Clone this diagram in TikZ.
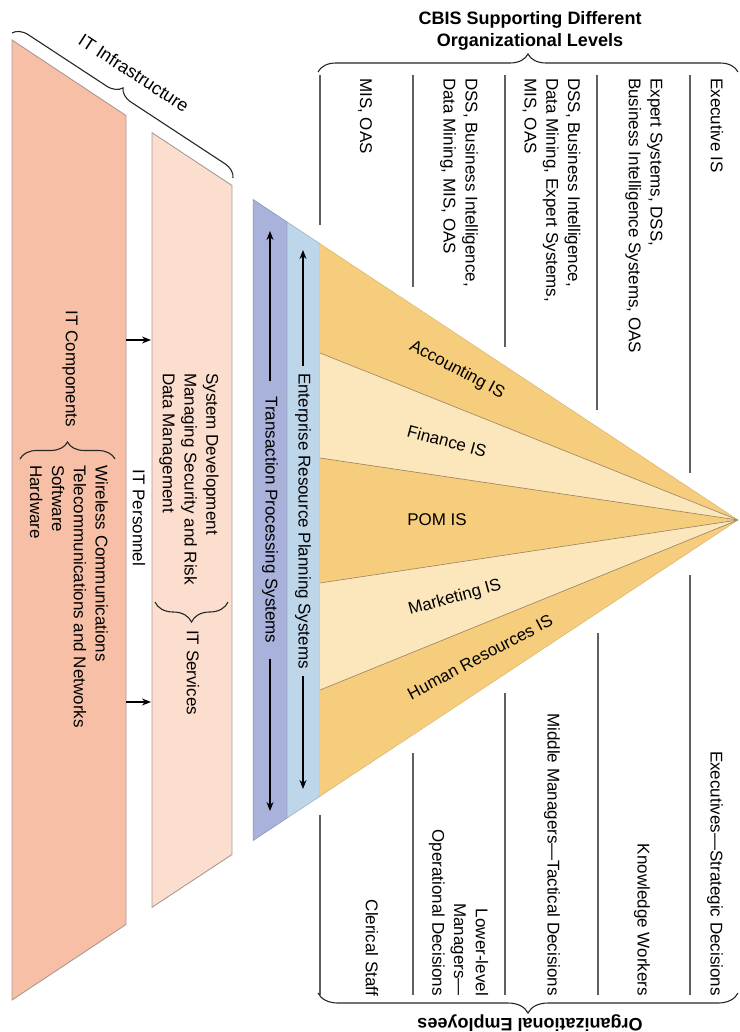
\documentclass[tikz,border=0pt]{standalone}
\usepackage{fontspec}
\setmainfont{Liberation Sans}
\usetikzlibrary{decorations.pathreplacing,arrows.meta}
\definecolor{compfill}{RGB}{247,192,166}
\definecolor{servfill}{RGB}{252,222,207}
\definecolor{boxedge}{RGB}{170,152,148}
\definecolor{tpsfill}{RGB}{168,178,218}
\definecolor{erpfill}{RGB}{190,214,234}
\definecolor{fandark}{RGB}{246,205,124}
\definecolor{fanlight}{RGB}{252,231,188}
\definecolor{fanedge}{RGB}{150,128,96}
\definecolor{rulegray}{RGB}{95,95,95}
\tikzset{
  txt/.style={font=\fontsize{17}{21.8}\selectfont, inner sep=0pt},
  colhead/.style={txt, rotate=-90, anchor=west, align=left},
  colfoot/.style={txt, rotate=-90, anchor=east, align=right},
  heading/.style={font=\fontsize{18}{22}\selectfont\bfseries, inner sep=0pt, align=center},
  seprule/.style={draw=rulegray, line width=1.1pt},
  bracepath/.style={draw=black!85, line width=1.1pt, decorate,
    decoration={brace, amplitude=#1}},
  bracemid/.style 2 args={draw=black!85, line width=1.1pt, decorate,
    decoration={brace, amplitude=#1, aspect=#2}},
  flow/.style={-{Stealth[length=9pt,width=7pt]}, line width=1.1pt},
  slice/.style={draw=fanedge, line width=0.6pt},
  panel/.style={draw=boxedge, line width=0.9pt},
}
\begin{document}
\begin{tikzpicture}[x=1pt,y=-1pt]
\useasboundingbox (0,0) rectangle (739,1032);

% ---------- IT infrastructure panels ----------
\filldraw[panel, fill=compfill] (12,40) -- (126,115.5) -- (126,924.5) -- (12,1000) -- cycle;
\filldraw[panel, fill=servfill] (152,132.7) -- (232,185.5) -- (232,854.5) -- (152,907.3) -- cycle;

\draw[bracemid={15}{0.465}] (12,33) -- (233,178);
\node[font=\fontsize{18}{22}\selectfont, inner sep=0pt, rotate=-33] (infra) at (134,73) {IT Infrastructure};

% IT components
\node[txt, rotate=-90] (comp) at (70,369) {IT Components};
\draw[bracemid={17}{0.5}] (20,459) -- (115,459);
\node[colhead] (complist) at (69,465) {Wireless Communications\\Telecommunications and Networks\\Software\\Hardware};

% IT personnel and services
\node[txt, rotate=-90] (pers) at (139,518) {IT Personnel};
\node[colhead] (servlist) at (189,373) {System Development\\Managing Security and Risk\\Data Management};
\draw[bracemid={20}{0.5}] (228,602) -- (155,602);
\node[colhead] (serv) at (193,630) {IT Services};

\coordinate (compA) at (126,340);
\coordinate (servA) at (151,340);
\coordinate (compB) at (126,702);
\coordinate (servB) at (151,702);
\draw[flow] (compA) -- (servA);
\draw[flow] (compB) -- (servB);

% ---------- TPS / ERP bands ----------
\filldraw[draw=tpsfill!80!black, line width=0.5pt, fill=tpsfill] (253,199.4) -- (287,221.9) -- (287,818.1) -- (253,840.6) -- cycle;
\filldraw[draw=erpfill!80!black, line width=0.5pt, fill=erpfill] (287,221.9) -- (320,243.7) -- (320,796.3) -- (287,818.1) -- cycle;

\node[txt, rotate=-90, inner sep=15pt] (tps) at (270,520) {Transaction Processing Systems};
\coordinate (tpsT) at (270,231);
\coordinate (tpsB) at (270,811);
\draw[flow] (tps.west) -- (tpsT);
\draw[flow] (tps.east) -- (tpsB);

\node[txt, rotate=-90, inner sep=7pt] (erp) at (303,521) {Enterprise Resource Planning Systems};
\coordinate (erpT) at (303,250);
\coordinate (erpB) at (303,789);
\draw[flow] (erp.west) -- (erpT);
\draw[flow] (erp.east) -- (erpB);

% ---------- functional fan ----------
\coordinate (apex) at (738,520);
\coordinate (s0) at (320,243.7);
\coordinate (s1) at (320,353);
\coordinate (s2) at (320,458);
\coordinate (s3) at (320,583);
\coordinate (s4) at (320,690);
\coordinate (s5) at (320,796.3);
\fill[fandark]  (s0) -- (s1) -- (apex) -- cycle;
\fill[fanlight] (s1) -- (s2) -- (apex) -- cycle;
\fill[fandark]  (s2) -- (s3) -- (apex) -- cycle;
\fill[fanlight] (s3) -- (s4) -- (apex) -- cycle;
\fill[fandark]  (s4) -- (s5) -- (apex) -- cycle;
\foreach \i in {1,...,4} \draw[slice] (s\i) -- (apex);
\draw[draw=fandark!85!black, line width=0.4pt] (s0) -- (apex) -- (s5);

\node[txt, rotate=-28]   (acc) at (457,370) {Accounting IS};
\node[txt, rotate=-15]   (fin) at (447,441) {Finance IS};
\node[txt]               (pom) at (437,520) {POM IS};
\node[txt, rotate=15.5]  (mkt) at (455,598) {Marketing IS};
\node[txt, rotate=28]    (hr)  at (480,657) {Human Resources IS};

% ---------- CBIS columns ----------
\node[heading] (cbis) at (530,31) {CBIS Supporting Different\\Organizational Levels};
\draw[bracepath=18] (318,72) -- (738,72);

\draw[seprule] (320,75) -- (320,225);
\draw[seprule] (413,75) -- (413,287);
\draw[seprule] (505,75) -- (505,347);
\draw[seprule] (597,75) -- (597,410);
\draw[seprule] (690,75) -- (690,473);

\node[colhead] (h1) at (365,78) {MIS, OAS};
\node[colhead] (h2) at (459,78) {DSS, Business Intelligence,\\Data Mining, MIS, OAS};
\node[colhead] (h3) at (551.5,78) {DSS, Business Intelligence,\\Data Mining, Expert Systems,\\MIS, OAS};
\node[colhead] (h4) at (644,78) {Expert Systems, DSS,\\Business Intelligence Systems, OAS};
\node[colhead] (h5) at (717,78) {Executive IS};

% ---------- employee levels ----------
\draw[seprule] (320,815) -- (320,995);
\draw[seprule] (413,753) -- (413,995);
\draw[seprule] (505,693) -- (505,995);
\draw[seprule] (598,633) -- (598,995);
\draw[seprule] (690,575) -- (690,995);

\node[colfoot] (f1) at (372,996) {Clerical Staff};
\node[colfoot] (f2) at (458.5,996) {Lower-level\\Managers---\\Operational Decisions};
\node[colfoot] (f3) at (552,996) {Middle Managers---Tactical Decisions};
\node[colfoot] (f4) at (642,996) {Knowledge Workers};
\node[colfoot] (f5) at (715,996) {Executives---Strategic Decisions};

\draw[bracepath=20] (738,993) -- (318,993);
\node[heading, rotate=180] (emp) at (530,1023) {Organizational Employees};

\end{tikzpicture}
\end{document}
